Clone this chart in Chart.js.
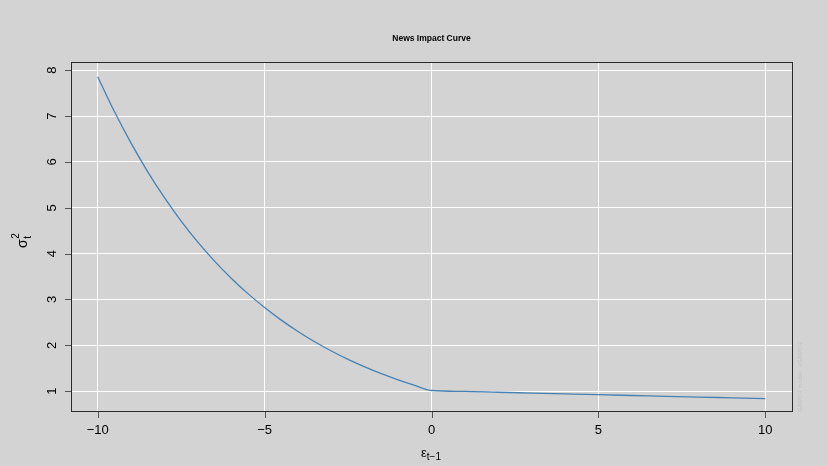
<!DOCTYPE html>
<html>
<head>
<meta charset="utf-8">
<script src="https://cdn.jsdelivr.net/npm/chart.js@4/dist/chart.umd.min.js"></script>
<style>
  html, body { margin: 0; padding: 0; background: #d3d3d3; }
  canvas { display: block; }
</style>
</head>
<body>
<canvas id="c" width="828" height="466"></canvas>
<script>
// ---- data ----
const epsValues = [-10, -9.5, -9, -8.5, -8, -7.5, -7, -6.5, -6, -5.5, -5, -4.5, -4, -3.5, -3, -2.5, -2, -1.5, -1, -0.5, 0,
                   1, 2, 3, 4, 5, 6, 7, 8, 9, 10];
const sigma2Values = [7.86, 7.10, 6.41, 5.785, 5.22, 4.71, 4.25, 3.837, 3.465, 3.128, 2.825, 2.55, 2.302, 2.078, 1.877, 1.695, 1.531, 1.382, 1.248, 1.127, 1.015,
                      0.996, 0.977, 0.959, 0.941, 0.923, 0.906, 0.889, 0.872, 0.856, 0.840];
const xTickValues = [-10, -5, 0, 5, 10];
const xTickLabels = ['\u221210', '\u22125', '0', '5', '10'];
const yTickValues = [1, 2, 3, 4, 5, 6, 7, 8];
const yTickLabels = ['1', '2', '3', '4', '5', '6', '7', '8'];
const chartTitle = 'News Impact Curve';
const watermark = 'GARCH model : eGARCH';

const points = epsValues.map((x, i) => ({ x: x, y: sigma2Values[i] }));

const FONT = '"Liberation Sans", Arial, Helvetica, sans-serif';

const decor = {
  id: 'decor',
  beforeDraw(chart) {
    const ctx = chart.ctx;
    ctx.save();
    ctx.fillStyle = '#d3d3d3';
    ctx.fillRect(0, 0, chart.width, chart.height);
    ctx.restore();
  },
  afterDraw(chart) {
    const ctx = chart.ctx;
    const a = chart.chartArea;
    const xs = chart.scales.x, ys = chart.scales.y;
    ctx.save();
    // box
    ctx.strokeStyle = '#2a2a2a';
    ctx.lineWidth = 1;
    ctx.strokeRect(a.left + 0.5, a.top + 0.5, a.right - a.left, a.bottom - a.top);
    // tick marks
    ctx.strokeStyle = '#555555';
    ctx.beginPath();
    xTickValues.forEach(v => {
      const px = Math.round(xs.getPixelForValue(v)) + 0.5;
      ctx.moveTo(px, a.bottom + 1);
      ctx.lineTo(px, a.bottom + 7);
    });
    yTickValues.forEach(v => {
      const py = Math.round(ys.getPixelForValue(v)) + 0.5;
      ctx.moveTo(a.left, py);
      ctx.lineTo(a.left - 6, py);
    });
    ctx.stroke();
    // y tick labels (rotated, R style)
    ctx.fillStyle = '#000';
    ctx.font = '13px ' + FONT;
    ctx.textAlign = 'center';
    ctx.textBaseline = 'alphabetic';
    yTickValues.forEach((v, i) => {
      const py = ys.getPixelForValue(v);
      ctx.save();
      ctx.translate(55.5, py);
      ctx.rotate(-Math.PI / 2);
      ctx.fillText(yTickLabels[i], 0, 0);
      ctx.restore();
    });
    // title
    ctx.font = 'bold 8.5px ' + FONT;
    ctx.textAlign = 'center';
    ctx.textBaseline = 'middle';
    ctx.fillText(chartTitle, 431.5, 38.5);
    // x axis title: epsilon_{t-1}
    ctx.textAlign = 'left';
    ctx.textBaseline = 'alphabetic';
    const e = '\u03b5';
    const sub = 't\u22121';
    ctx.font = '13px ' + FONT;
    const ew = ctx.measureText(e).width;
    ctx.font = '10px ' + FONT;
    const sw = ctx.measureText(sub).width;
    const x0 = 431 - (ew + sw) / 2;
    ctx.font = '13px ' + FONT;
    ctx.fillText(e, x0, 457);
    ctx.font = '10px ' + FONT;
    ctx.fillText(sub, x0 + ew, 460);
    // y axis title: sigma_t^2
    ctx.save();
    ctx.translate(27, 248);
    ctx.rotate(-Math.PI / 2);
    ctx.font = '14px ' + FONT;
    const sgw = ctx.measureText('\u03c3').width;
    ctx.fillText('\u03c3', 0, 0);
    ctx.font = '10px ' + FONT;
    ctx.fillText('2', sgw + 0.5, -8);
    ctx.fillText('t', sgw + 0.5, 3.5);
    ctx.restore();
    // watermark
    ctx.save();
    ctx.translate(802, 377);
    ctx.rotate(-Math.PI / 2);
    ctx.font = '6px ' + FONT;
    ctx.fillStyle = '#c2c2c2';
    ctx.textAlign = 'center';
    ctx.fillText(watermark, 0, 0);
    ctx.restore();
    ctx.restore();
  }
};

new Chart(document.getElementById('c'), {
  type: 'line',
  data: {
    datasets: [{
      data: points,
      borderColor: '#4682b4',
      borderWidth: 1.3,
      pointRadius: 0,
      fill: false,
      cubicInterpolationMode: 'monotone'
    }]
  },
  options: {
    responsive: false,
    animation: false,
    devicePixelRatio: 1,
    layout: { padding: { left: 0, right: 36, top: 62, bottom: 0 } },
    plugins: { legend: { display: false }, title: { display: false }, tooltip: { enabled: false } },
    scales: {
      x: {
        type: 'linear',
        min: -10.8,
        max: 10.8,
        afterBuildTicks(scale) { scale.ticks = xTickValues.map(v => ({ value: v })); },
        afterFit(scale) { scale.height = 55; },
        grid: { color: '#ffffff', lineWidth: 1, drawTicks: false },
        border: { display: false },
        ticks: {
          padding: 12,
          color: '#000',
          font: { size: 13, family: FONT },
          maxRotation: 0,
          callback(value) {
            const i = xTickValues.indexOf(value);
            return i >= 0 ? xTickLabels[i] : '';
          }
        }
      },
      y: {
        type: 'linear',
        min: 0.568,
        max: 8.18,
        afterBuildTicks(scale) { scale.ticks = yTickValues.map(v => ({ value: v })); },
        afterFit(scale) { scale.width = 71; },
        grid: { color: '#ffffff', lineWidth: 1, drawTicks: false },
        border: { display: false },
        ticks: { display: false }
      }
    }
  },
  plugins: [decor]
});
</script>
</body>
</html>
